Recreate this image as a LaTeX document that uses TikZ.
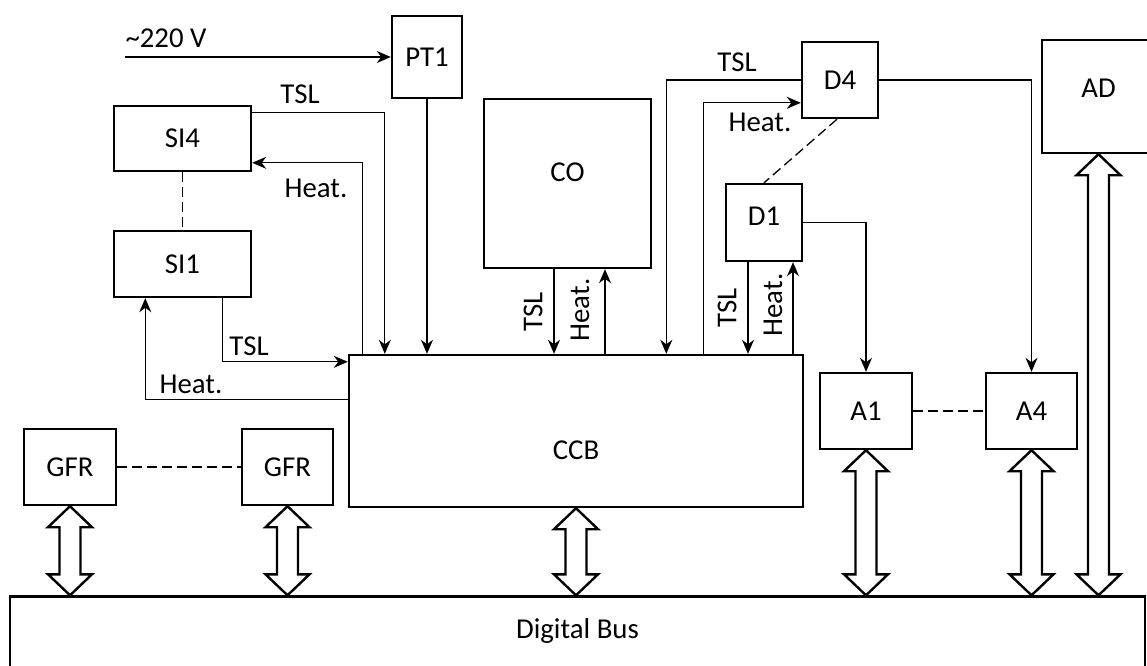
\documentclass[tikz,border=0pt]{standalone}
\usepackage{fontspec}
\setmainfont{Carlito}
\usetikzlibrary{arrows.meta,calc}
\tikzset{
  box/.style={draw, line width=2.4pt, inner sep=0pt, fill=white},
  conn/.style={line width=1.3pt},
  arr/.style={conn, -{Stealth[length=14pt,width=12pt,inset=4.5pt]}},
  dsh/.style={conn, dash pattern=on 10pt off 5pt},
  blk/.style={line width=2.4pt, fill=white, line join=miter},
  lbl/.style={inner sep=0pt},
}
\newcommand\busarrow[2]{%
  \draw[blk] let \p1=(#1), \p2=(#2) in
    (\x1,\y1) -- (\x1+22pt,\y1-21pt) -- (\x1+10.5pt,\y1-21pt)
    -- (\x1+10.5pt,\y2+21pt) -- (\x1+22pt,\y2+21pt) -- (\x1,\y2)
    -- (\x1-22pt,\y2+21pt) -- (\x1-10.5pt,\y2+21pt)
    -- (\x1-10.5pt,\y1-21pt) -- (\x1-22pt,\y1-21pt) -- cycle;}
\begin{document}
\begin{tikzpicture}[x=1pt,y=-1pt,font=\fontsize{28.8}{34}\selectfont]
\useasboundingbox (0,0) rectangle (1147,665);
% boxes
\node[box, minimum width=70pt, minimum height=82pt] (pt1) at (427,57) {PT1};
\node[box, minimum width=137pt, minimum height=65pt] (si4) at (182.5,138.5) {SI4};
\node[box, minimum width=137pt, minimum height=66pt] (si1) at (182.5,264) {SI1};
\node[box, minimum width=167pt, minimum height=169pt,
      label={[lbl,yshift=11pt]center:CO}] (co) at (567.5,183.5) {};
\node[box, minimum width=76pt, minimum height=76pt] (d4) at (840,80) {D4};
\node[box, minimum width=76pt, minimum height=77pt,
      label={[lbl,yshift=6pt]center:D1}] (d1) at (764,222.5) {};
\node[box, minimum width=113pt, minimum height=113pt,
      label={[lbl,yshift=8.5pt]center:AD}] (ad) at (1098.5,96.5) {};
\node[box, minimum width=454pt, minimum height=152pt,
      label={[lbl,yshift=-19pt]center:CCB}] (ccb) at (576,431) {};
\node[box, minimum width=92pt, minimum height=76pt] (g1) at (70,467) {GFR};
\node[box, minimum width=91pt, minimum height=76pt] (g2) at (287.5,467) {GFR};
\node[box, minimum width=92pt, minimum height=76pt] (a1) at (866,411) {A1};
\node[box, minimum width=91pt, minimum height=76pt] (a4) at (1031.5,411) {A4};
\node[box, minimum width=1135pt, minimum height=75pt,
      label={[lbl,yshift=3pt]center:Digital Bus}] (bus) at (577.5,634) {};
% free end of the mains input
\coordinate (mains) at (125,57);
\node[lbl] (v220) at (166,38) {\textasciitilde220 V};
\draw[arr] (mains) -- (pt1.west);
\draw[arr] (pt1.south) -- (pt1.south |- ccb.north);
% SI4
\draw[arr] ([yshift=-8pt]si4.north east) -| ([xshift=37pt]ccb.north west);
\draw[arr] ([xshift=15pt]ccb.north west) |- ([yshift=-58pt]si4.north east);
\node[lbl] (l1) at (300,94) {TSL};
\node[lbl] (l2) at (316,188) {Heat.};
\draw[dsh] (si4.south) -- (si1.north);
% SI1
\draw[arr] ([xshift=-30pt]si1.south east) |- ([yshift=-8pt]ccb.north west);
\draw[arr] ([yshift=-46pt]ccb.north west) -| ([xshift=32.5pt]si1.south west);
\node[lbl] (l3) at (249,346) {TSL};
\node[lbl] (l4) at (191,384) {Heat.};
% CO
\path ([xshift=-13.5pt]co.south) coordinate (cot);
\path ([xshift=37.5pt]co.south) coordinate (coh);
\draw[arr] (cot) -- (cot |- ccb.north);
\draw[arr] (coh |- ccb.north) -- (coh);
\node[lbl, rotate=90] (l5) at (533,312) {TSL};
\node[lbl, rotate=90] (l6) at (580,310) {Heat.};
% D4
\path ([xshift=318.5pt]ccb.north west) coordinate (d4t);
\path ([xshift=356pt]ccb.north west) coordinate (d4h);
\draw[arr] (d4.west) -| (d4t);
\draw[arr] (d4h) |- ([yshift=-62pt]d4.north west);
\node[lbl] (l7) at (737,62) {TSL};
\node[lbl] (l8) at (760,122) {Heat.};
\draw[dsh] ([xshift=-3pt]d4.south) -- (d1.north);
\draw[arr] (d4.east) -| (a4.north);
% D1
\path ([xshift=-16pt]d1.south) coordinate (d1t);
\path ([xshift=29pt]d1.south) coordinate (d1h);
\draw[arr] (d1t) -- (d1t |- ccb.north);
\draw[arr] (d1h |- ccb.north) -- (d1h);
\node[lbl, rotate=90] (l9) at (727,308) {TSL};
\node[lbl, rotate=90] (l10) at (773,305) {Heat.};
\draw[arr] (d1.east) -| (a1.north);
% dashed links
\draw[dsh] (a1.east) -- (a4.west);
\draw[dsh] (g1.east) -- (g2.west);
% bus arrows
\busarrow{g1.south}{g1.south |- bus.north}
\busarrow{g2.south}{g2.south |- bus.north}
\busarrow{ccb.south}{ccb.south |- bus.north}
\busarrow{a1.south}{a1.south |- bus.north}
\busarrow{a4.south}{a4.south |- bus.north}
\busarrow{ad.south}{ad.south |- bus.north}
\end{tikzpicture}
\end{document}
